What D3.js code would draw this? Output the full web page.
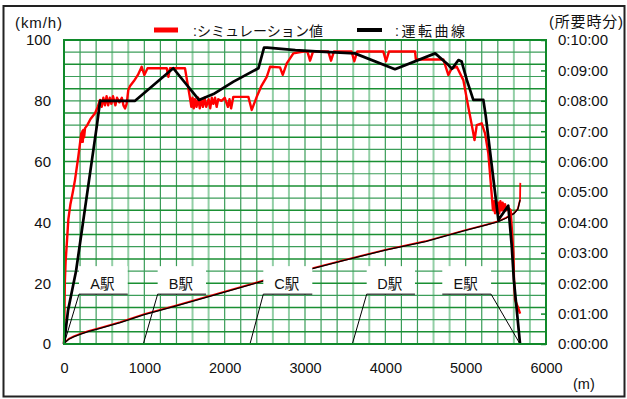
<!DOCTYPE html>
<html>
<head>
<meta charset="utf-8">
<script src="https://cdn.jsdelivr.net/npm/d3@7/dist/d3.min.js"></script>
<style>
  html, body { margin: 0; padding: 0; background: #fff; }
  svg { display: block; }
  text { font-family: "Liberation Sans", Arial, "Noto Sans CJK JP", sans-serif; fill: #111; }
</style>
</head>
<body>
<svg id="chart" width="627" height="399"></svg>
<script>
// ---- data -------------------------------------------------------------
// distance (m) , speed (km/h) : simulated run
const simDist  = [0,5,10,20,35,54,80,110,137,178,215,222,228,234,240,250,262,290,330,386,420,448,470,490,510,530,550,570,590,610,640,660,690,720,740,760,780,800,822,870,920,967,1000,1040,1071,1279,1299,1320,1506,1569,1585,1600,1615,1630,1650,1670,1690,1710,1730,1750,1770,1800,1820,1840,1860,1880,1900,1920,1960,2000,2040,2060,2080,2108,2295,2337,2399,2460,2524,2565,2689,2723,2773,2855,2979,3030,3063,3100,3290,3324,3360,3580,3614,3650,3975,4009,4045,4370,4380,4722,4784,4827,4889,4971,5040,5080,5110,5138,5200,5241,5282,5340,5355,5365,5380,5392,5405,5418,5432,5445,5460,5475,5490,5505,5520,5560,5594,5602,5615,5656,5677];
const simSpeed = [0,8,20,27,33,41,46,50,54,61.6,69.3,66.5,70,66.5,70.4,68,71,72,74,75.9,78,80.3,78,81,78.5,81.5,78.5,81,79,81.5,78.5,81,79.5,81,78.5,77.5,79,83.5,84.9,86.5,88.5,91.2,88.5,90.7,90.7,90.7,87.9,90.7,90.7,80.8,78,81,77.5,80.5,78,81,77.5,80.5,78,81,78,80.5,77.5,81,79,81,78,80.5,80,81,78,80.5,77.5,81.3,81.3,77,81.3,85,87.9,91.2,91,88.5,92.3,95.6,96.2,96.2,93.2,96.2,96.2,93.2,96.2,96.2,93,96.2,96.2,93,96.2,96.2,93.6,93.6,88.5,90.7,91.2,86.8,77,71.5,67.1,72,72.6,69.3,62.7,44,47,43,47,43.5,46.5,43,47,44,46.5,43.5,46,44,45,44,30,21,14.5,11.7,10,0];

// distance (m) , speed (km/h) : operating curve
const runDist  = [0,50,150,410,450,885,1360,1680,1860,2110,2420,2490,2530,2880,3190,3620,4120,4620,4765,4830,4910,4950,5015,5095,5220,5250,5407,5530,5574,5600,5677];
const runSpeed = [0,11,24,72,80,80,90.7,80.3,82.2,86.3,90.7,97.5,97.5,96.7,96.2,95.6,90.4,95.6,92.3,90.5,93.4,92.9,86.8,80.3,80.3,75,40.8,45.5,32,21,0];

// distance (m) , elapsed time (min)
const timeDist   = [0,20,60,120,200,300,450,700,1000,1400,2000,2500,3000,3500,4000,4500,5000,5250,5400,5500,5600,5650,5677];
const timeRun    = [0,0.08,0.17,0.25,0.33,0.42,0.53,0.72,0.98,1.27,1.72,2.1,2.43,2.77,3.1,3.38,3.75,3.92,4.03,4.15,4.3,4.45,4.75];
const timeSimEnd = [5680, 5.3];   // simulated time keeps counting while stopped

// stations: platform extent (m) and the foot of the approach line (m)
const stationNames    = ["A駅","B駅","C駅","D駅","E駅"];
const platformStart   = [187,1166,2481,3768,4709];
const platformEnd     = [793,1768,3091,4369,5316];
const stationFoot     = [0,987,2315,3589,5677];
const stationLevel    = 16.4;   // km/h level of the platform line

// axes
const distTicks  = [0,1000,2000,3000,4000,5000,6000];
const speedTicks = [0,20,40,60,80,100];
const timeTicks  = [0,1,2,3,4,5,6,7,8,9,10];
const legendLabels = [":シミュレーション値", ":運転曲線"];

// ---- layout -----------------------------------------------------------
const svg = d3.select("#chart");
const L = 64, R = 546, T = 40, B = 344;

const x = d3.scaleLinear().domain([0, 6000]).range([L, R]);
const y = d3.scaleLinear().domain([0, 100]).range([B, T]);
const yt = d3.scaleLinear().domain([0, 10]).range([B, T]);

// outer frame
svg.append("rect").attr("x", 3.5).attr("y", 6).attr("width", 621).attr("height", 390.5)
  .attr("fill", "none").attr("stroke", "#222").attr("stroke-width", 2);

// ---- grid -------------------------------------------------------------
const grid = svg.append("g");
const vLines = d3.range(200, 6000, 200);
const faintV = d => (d % 1000 === 600 || d % 1000 === 800);
grid.selectAll("line.v").data(vLines).join("line")
  .attr("x1", d => x(d)).attr("x2", d => x(d)).attr("y1", T).attr("y2", B)
  .attr("stroke", d => faintV(d) ? "#93cfa6" : "#3a9c58")
  .attr("stroke-width", d => faintV(d) ? 2 : 1.2);
const hLines = d3.range(4, 100, 4);
grid.selectAll("line.h").data(hLines).join("line")
  .attr("x1", L).attr("x2", R).attr("y1", d => y(d)).attr("y2", d => y(d))
  .attr("stroke", d => (d % 8 === 4) ? "#1a8f33" : "#3c9e5a")
  .attr("stroke-width", d => (d % 8 === 4) ? 1.5 : 1.2);

// ---- elapsed-time curves ---------------------------------------------
const tRunPts = timeDist.map((d, i) => [d, timeRun[i]]);
const tSimPts = tRunPts.concat([timeSimEnd]);
const tLine = d3.line().x(d => x(d[0])).y(d => yt(d[1]));
svg.append("path").attr("d", tLine(tSimPts)).attr("fill", "none")
  .attr("stroke", "#ff0000").attr("stroke-width", 1.8);
svg.append("path").attr("d", tLine(tRunPts)).attr("fill", "none")
  .attr("stroke", "#000").attr("stroke-width", 1.3)
  .attr("transform", "translate(0,0.4)");

// ---- stations ---------------------------------------------------------
const st = stationNames.map((n, i) => ({
  name: n, s: platformStart[i], e: platformEnd[i], foot: stationFoot[i]
}));
const sg = svg.append("g");
sg.selectAll("rect").data(st).join("rect")
  .attr("x", d => x(d.s)).attr("width", d => x(d.e) - x(d.s))
  .attr("y", y(stationLevel) - 28).attr("height", 28)
  .attr("fill", "#fff");
sg.selectAll("path").data(st).join("path")
  .attr("d", d => d.foot <= d.s
      ? `M${x(d.foot)},${y(0)}L${x(d.s)},${y(stationLevel)}L${x(d.e)},${y(stationLevel)}`
      : `M${x(d.s)},${y(stationLevel)}L${x(d.e)},${y(stationLevel)}L${x(d.foot)},${y(0)}`)
  .attr("fill", "none").attr("stroke", "#000").attr("stroke-width", 1);
sg.selectAll("text").data(st).join("text")
  .attr("x", d => x((d.s + d.e) / 2) - 1).attr("y", y(stationLevel) - 5)
  .attr("text-anchor", "middle").attr("font-size", 14.5).text(d => d.name);

// ---- speed curves -----------------------------------------------------
const sLine = d3.line().x(d => x(d[0])).y(d => y(d[1]));
svg.append("path").attr("d", sLine(simDist.map((d, i) => [d, simSpeed[i]])))
  .attr("fill", "none").attr("stroke", "#ff0000").attr("stroke-width", 2.4)
  .attr("stroke-linejoin", "round");
svg.append("path").attr("d", sLine(runDist.map((d, i) => [d, runSpeed[i]])))
  .attr("fill", "none").attr("stroke", "#000").attr("stroke-width", 2.7)
  .attr("stroke-linejoin", "round");

// plot frame
svg.append("rect").attr("x", L).attr("y", T).attr("width", R - L).attr("height", B - T)
  .attr("fill", "none").attr("stroke", "#10892a").attr("stroke-width", 2);

// ---- axes -------------------------------------------------------------
const fontAxis = g => { g.select(".domain").remove(); g.selectAll("text").attr("fill", "#111"); };

svg.append("g").attr("transform", `translate(${L},0)`)
  .call(d3.axisLeft(y).tickValues(speedTicks).tickSize(0).tickPadding(13))
  .call(fontAxis)
  .call(g => g.selectAll("text").attr("font-size", 15).attr("font-family", null));

svg.append("g").attr("transform", `translate(0,${B})`)
  .call(d3.axisBottom(x).tickValues(distTicks).tickSize(0).tickPadding(19).tickFormat(d3.format("d")))
  .call(fontAxis)
  .call(g => g.selectAll("text").attr("font-size", 14.5).attr("font-family", null));

svg.append("g").attr("transform", `translate(${R},0)`)
  .call(d3.axisRight(yt).tickValues(timeTicks).tickSizeInner(-5).tickSizeOuter(0).tickPadding(12)
    .tickFormat(m => `0:${String(m).padStart(2, "0")}:00`))
  .call(fontAxis)
  .call(g => g.selectAll("line").attr("stroke", "#10892a").attr("stroke-width", 1.5))
  .call(g => g.selectAll("text").attr("font-size", 15).attr("font-family", null));

// axis titles
svg.append("text").attr("x", 15).attr("y", 28).attr("font-size", 15)
  .attr("textLength", 47).text("(km/h)");
svg.append("text").attr("x", 549).attr("y", 27).attr("font-size", 15)
  .attr("textLength", 74).text("(所要時分)");
svg.append("text").attr("x", 573).attr("y", 389).attr("font-size", 14.5).text("(m)");

// ---- legend -----------------------------------------------------------
const legend = svg.append("g");
legend.append("line").attr("x1", 154).attr("x2", 178).attr("y1", 30).attr("y2", 30)
  .attr("stroke", "#ff0000").attr("stroke-width", 5);
legend.append("text").attr("x", 193).attr("y", 35.5).attr("font-size", 14)
  .attr("textLength", 130).text(legendLabels[0]);
legend.append("line").attr("x1", 357).attr("x2", 382).attr("y1", 30).attr("y2", 30)
  .attr("stroke", "#000").attr("stroke-width", 4);
legend.append("text").attr("x", 395).attr("y", 35.5).attr("font-size", 14)
  .attr("textLength", 70).text(legendLabels[1]);
</script>
</body>
</html>
